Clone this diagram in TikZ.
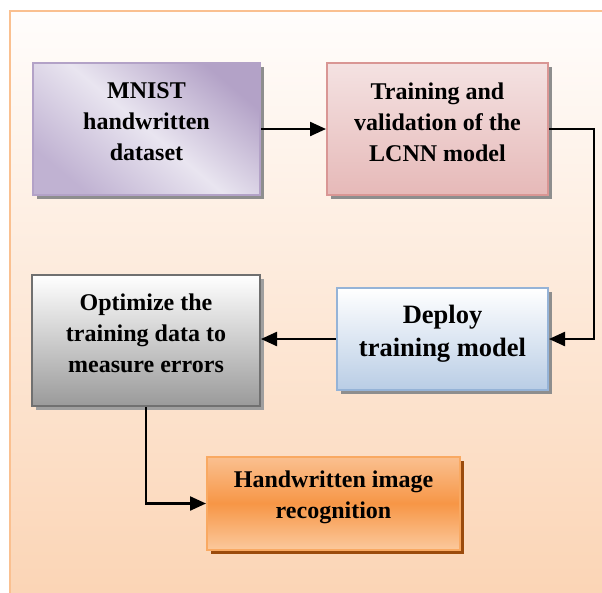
\documentclass[tikz,border=0pt]{standalone}
\usepackage{fontspec}
\setmainfont{Liberation Serif}
\usetikzlibrary{arrows.meta,calc}
\definecolor{framec}{HTML}{FAC090}
\definecolor{bgtop}{HTML}{FFFDFC}
\definecolor{bgbot}{HTML}{FBD4B4}
\definecolor{purpB}{HTML}{B3A2C7}
\definecolor{purpT}{HTML}{B3A2C7}
\definecolor{purpM}{HTML}{E9E5F0}
\definecolor{purpL}{HTML}{C0B2D2}
\definecolor{pinkB}{HTML}{D99694}
\definecolor{pinkT}{HTML}{F4E2E2}
\definecolor{pinkL}{HTML}{E6B9B8}
\definecolor{blueB}{HTML}{95B3D7}
\definecolor{blueL}{HTML}{B9CDE5}
\definecolor{grayB}{HTML}{707070}
\definecolor{grayL}{HTML}{9A9A9A}
\definecolor{oraB}{HTML}{F9A962}
\definecolor{oraT}{HTML}{FAC090}
\definecolor{oraM}{HTML}{F79646}
\definecolor{oraL}{HTML}{FBC99D}
\definecolor{shadowc}{HTML}{8E8E8E}
\definecolor{oshadowc}{HTML}{9B4B0C}
\tikzset{
  boxbase/.style={rectangle, line width=2pt, inner sep=0pt},
  shadowed/.style={preaction={fill=#1, transform canvas={shift={(4,4)}}}},
  txt/.style={align=center, font=\bfseries\fontsize{24}{31}\selectfont, text=black, inner sep=0pt},
  arr/.style={line width=2.3pt, -{Triangle[length=16pt,width=14pt]}},
}
\begin{document}
\begin{tikzpicture}[x=1pt,y=-1pt]
\useasboundingbox (0,0) rectangle (602,592);
\clip (0,0) rectangle (602,592);
\fill[white] (0,0) rectangle (602,592);
\shade[top color=bgtop, bottom color=bgbot, draw=framec, line width=2.5pt] (10,11) rectangle (615,605);

\node[boxbase, shadowed=shadowc, draw=purpB, top color=purpT, bottom color=purpL, middle color=purpM, shading angle=-40,
  minimum width=227pt, minimum height=132pt] (mnist) at (146.5,129) {};
\node[boxbase, shadowed=shadowc, draw=pinkB, top color=pinkT, bottom color=pinkL,
  minimum width=221pt, minimum height=132pt] (train) at (437.5,129) {};
\node[boxbase, shadowed=shadowc, draw=blueB, top color=white, bottom color=blueL,
  minimum width=211pt, minimum height=102pt] (deploy) at (442.5,339) {};
\node[boxbase, shadowed=shadowc!85, draw=grayB, top color=white, bottom color=grayL,
  minimum width=228pt, minimum height=131pt] (optim) at (146,340.5) {};
\node[boxbase, shadowed=oshadowc, draw=oraB, top color=oraT, bottom color=oraL, middle color=oraM,
  minimum width=253pt, minimum height=93pt] (hand) at (333.5,503.5) {};

\node[txt] (mnistT) at ([yshift=7pt]mnist.center) {MNIST\\handwritten\\dataset};
\node[txt] (trainT) at ([yshift=7pt]train.center) {Training and\\validation of the\\LCNN model};
\node[txt, font=\bfseries\fontsize{26.5}{33}\selectfont] (deployT) at ([yshift=5pt]deploy.center) {Deploy\\training model};
\node[txt] (optimT) at ([yshift=7pt]optim.center) {Optimize the\\training data to\\measure errors};
\node[txt] (handT) at ([yshift=6pt]hand.center) {Handwritten image\\recognition};

\draw[arr] (mnist.east) -- (train.west);
\draw[arr] (train.east) -- ++(45,0) |- (deploy.east);
\draw[arr] (deploy.west) -- (deploy.west -| optim.east);
\draw[arr] (optim.south) |- (hand.west);
\end{tikzpicture}
\end{document}
